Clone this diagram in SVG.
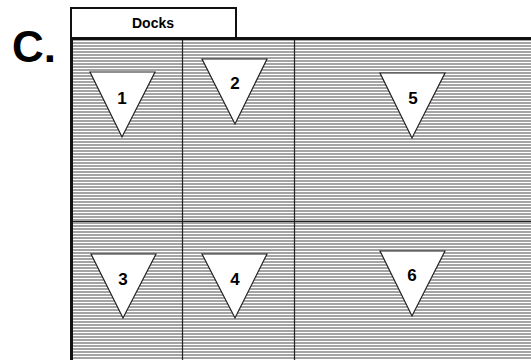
<svg xmlns="http://www.w3.org/2000/svg" width="531" height="360" viewBox="0 0 531 360">
<defs>
<pattern id="hatch" x="0" y="0" width="4" height="3" patternUnits="userSpaceOnUse">
<rect x="0" y="0" width="4" height="3" fill="#ffffff"/>
<rect x="0" y="0" width="4" height="2" fill="#a4a4a4"/>
</pattern>
</defs>
<style>
.lbl{font-family:"Liberation Sans",Arial,sans-serif;font-weight:bold;fill:#000;}
.tri{fill:#fff;stroke:#222;stroke-width:1.2;}
.grid{stroke:#222;stroke-width:1.2;fill:none;}
</style>
<rect width="531" height="360" fill="#fff"/>
<text class="lbl" x="12" y="62" font-size="44">C.</text>
<g id="docks">
<rect x="71" y="8" width="165" height="30" fill="#fff" stroke="#111" stroke-width="2"/>
<text class="lbl" x="153" y="28" font-size="14" text-anchor="middle">Docks</text>
</g>
<g id="area">
<rect x="71" y="38" width="460" height="322" fill="url(#hatch)"/>
</g>
<g id="connectors">
<line class="grid" x1="182.5" y1="38" x2="182.5" y2="360"/>
<line class="grid" x1="294.5" y1="38" x2="294.5" y2="360"/>
<line class="grid" x1="71" y1="221.5" x2="531" y2="221.5"/>
<line x1="71" y1="38.5" x2="531" y2="38.5" stroke="#111" stroke-width="3"/>
<line x1="71.5" y1="37" x2="71.5" y2="360" stroke="#111" stroke-width="3"/>
</g>
<g id="node1"><polygon class="tri" points="90,72 155,72 122,137"/><text class="lbl" x="122" y="104" font-size="17" text-anchor="middle">1</text></g>
<g id="node2"><polygon class="tri" points="202,59 267,59 235,124"/><text class="lbl" x="235" y="89" font-size="17" text-anchor="middle">2</text></g>
<g id="node5"><polygon class="tri" points="380,73 445,73 412,138"/><text class="lbl" x="413" y="104" font-size="17" text-anchor="middle">5</text></g>
<g id="node3"><polygon class="tri" points="91,254 156,254 123,318"/><text class="lbl" x="123" y="285" font-size="17" text-anchor="middle">3</text></g>
<g id="node4"><polygon class="tri" points="202,254 267,254 235,318"/><text class="lbl" x="235" y="285" font-size="17" text-anchor="middle">4</text></g>
<g id="node6"><polygon class="tri" points="380,251 445,251 412,316"/><text class="lbl" x="412" y="281" font-size="17" text-anchor="middle">6</text></g>
</svg>
